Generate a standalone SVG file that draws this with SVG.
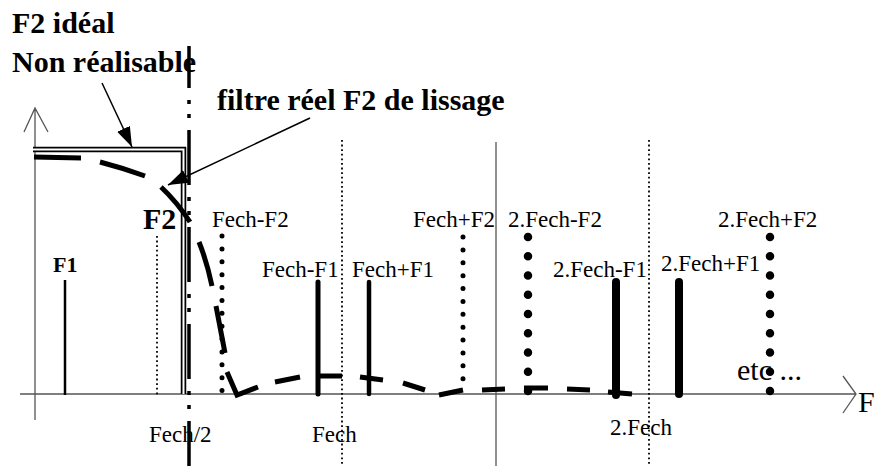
<svg xmlns="http://www.w3.org/2000/svg" width="875" height="466" viewBox="0 0 875 466">
  <style>
    text { font-family: "Liberation Serif", "Times New Roman", serif; fill: #000; }
    .lbl { font-size: 23px; }
    .big { font-size: 30px; }
    .bold { font-weight: bold; font-size: 30px; }
    .axis { stroke: #555; stroke-width: 1.3; fill: none; }
    .fine { stroke: #000; stroke-width: 1.8; stroke-dasharray: 1.8 2.8; fill: none; }
    .grid { stroke: #555; stroke-width: 1.3; fill: none; }
    .spike { stroke: #000; stroke-linecap: round; fill: none; }
    .dotS { stroke: #000; stroke-width: 5; stroke-linecap: round; stroke-dasharray: 0 12.875; fill: none; }
    .dotL { stroke: #000; stroke-width: 8.5; stroke-linecap: round; stroke-dasharray: 0 19.25; fill: none; }
    .real { stroke: #000; stroke-width: 5; fill: none; stroke-linecap: butt; stroke-linejoin: miter; }
    .leader { stroke: #000; stroke-width: 1.5; fill: none; }
    .half { stroke: #000; stroke-width: 3.5; stroke-dasharray: 55 12 4 10 4 12; stroke-dashoffset: 13; fill: none; }
  </style>
  <defs>
    <marker id="head" viewBox="0 0 20 14" refX="20" refY="7" markerWidth="20" markerHeight="14" markerUnits="userSpaceOnUse" orient="auto">
      <path d="M0,0 L20,7 L0,14 z" fill="#000"/>
    </marker>
  </defs>

  <!-- titles and labels -->
  <g id="titles">
    <text class="bold" x="12" y="33">F2 idéal</text>
    <text class="bold" x="12" y="72">Non réalisable</text>
    <text class="bold" x="217" y="110">filtre réel F2 de lissage</text>
    <text class="bold" x="143" y="229">F2</text>
    <text class="bold" x="53" y="272" style="font-size:22px">F1</text>
  </g>
  <g id="labels">
    <text class="lbl" x="212" y="227">Fech-F2</text>
    <text class="lbl" x="262" y="277">Fech-F1</text>
    <text class="lbl" x="352" y="277">Fech+F1</text>
    <text class="lbl" x="413" y="227">Fech+F2</text>
    <text class="lbl" x="508" y="227">2.Fech-F2</text>
    <text class="lbl" x="553" y="277">2.Fech-F1</text>
    <text class="lbl" x="661" y="271">2.Fech+F1</text>
    <text class="lbl" x="718" y="227">2.Fech+F2</text>
    <text class="lbl" x="149" y="442">Fech/2</text>
    <text class="lbl" x="312" y="442">Fech</text>
    <text class="lbl" x="610" y="435">2.Fech</text>
    <text class="big" x="737" y="380">etc ...</text>
    <text class="big" x="858" y="412">F</text>
  </g>

  <!-- axes -->
  <g id="axes">
    <path class="axis" d="M20,394 H856 M843,376 L856,394 L843,413"/>
    <path class="axis" d="M35,420 V108 M24,132 L35,108 L48,132"/>
  </g>

  <!-- reference verticals -->
  <g id="marks">
    <line class="fine" x1="157" y1="236" x2="157" y2="395"/>
    <line class="fine" x1="342" y1="140" x2="342" y2="466"/>
    <line class="fine" x1="649" y1="140" x2="649" y2="466"/>
    <line class="grid" x1="496" y1="142" x2="496" y2="466"/>
  </g>

  <!-- ideal filter template -->
  <g id="ideal">
    <path d="M33,149.5 H183.5 V394" stroke="#000" stroke-width="5.5" fill="none"/>
    <path d="M33,149.5 H183.5 V394" stroke="#fff" stroke-width="2" fill="none"/>
  </g>

  <!-- Fech/2 boundary -->
  <line id="fech2" class="half" x1="189" y1="46" x2="189" y2="466"/>

  <!-- spectral lines -->
  <g id="spectrum">
    <line x1="65" y1="280" x2="65" y2="395" stroke="#000" stroke-width="2.5"/>
    <line class="spike" x1="318" y1="282" x2="318" y2="394" stroke-width="5"/>
    <line class="spike" x1="369" y1="282" x2="369" y2="394" stroke-width="4.5"/>
    <line class="spike" x1="616" y1="282" x2="616" y2="395" stroke-width="8"/>
    <line class="spike" x1="679" y1="282" x2="679" y2="394" stroke-width="8"/>
    <line class="dotS" x1="222" y1="236" x2="222" y2="391"/>
    <line class="dotS" x1="463" y1="237" x2="463" y2="391"/>
    <line class="dotL" x1="528" y1="237" x2="528" y2="392"/>
    <line class="dotL" x1="770" y1="237" x2="770" y2="392"/>
  </g>

  <!-- real smoothing filter response -->
  <path id="real-filter" class="real" d="M34,157 L81,158
    M100,162 Q123,168 145,176
    M161,187 Q177,202 190,222
    M199,242 Q207,262 212,286
    M216,306 L225,353
    M227,372 L237,395 L258,387
    M275,382 L300,377
    M318,376 L342,376
    M360,377 L383,380
    M403,383 L425,390
    M439,395 L463,390
    M482,390 L505,389
    M524,388 L548,388
    M567,389 L590,390
    M608,392 L632,394"/>

  <!-- callout arrows -->
  <g id="connectors">
    <line class="leader" x1="102" y1="83" x2="132" y2="147" marker-end="url(#head)"/>
    <line class="leader" x1="310" y1="118" x2="168" y2="185" marker-end="url(#head)"/>
  </g>
</svg>
